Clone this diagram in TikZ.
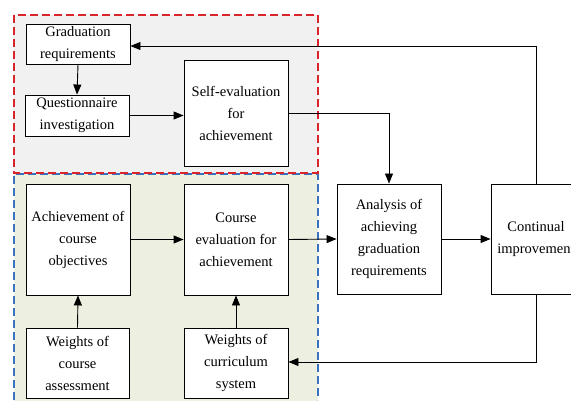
\documentclass[tikz,border=0pt]{standalone}
\usepackage{fontspec}
\setmainfont{Liberation Serif}
\usetikzlibrary{arrows.meta}
\definecolor{topfill}{HTML}{F1F1F1}
\definecolor{botfill}{HTML}{EDF0E0}
\definecolor{reddash}{HTML}{D8242A}
\definecolor{bluedash}{HTML}{3A72C0}
\begin{document}
\begin{tikzpicture}[x=1pt,y=-1pt,
  box/.style={draw, line width=0.9pt, fill=white, align=center, inner sep=0pt,
    font=\fontsize{14.5}{22}\selectfont},
  conn/.style={line width=0.9pt, -{Triangle[length=10pt,width=8pt]}},
  plain/.style={line width=0.9pt}]
\useasboundingbox (0,0) rectangle (571,401);
\clip (0,0) rectangle (571,401);
% region backgrounds
\fill[topfill] (14,15) rectangle (318,173);
\fill[botfill] (14,174) rectangle (318,401);
\draw[bluedash, line width=1.2pt, dash pattern=on 8pt off 4pt] (14,400) -- (14,174) -- (318,174) -- (318,400);
\draw[reddash, line width=1.5pt, dash pattern=on 8pt off 4pt] (14,15) rectangle (318,173);
% nodes
\node[box, minimum width=104pt, minimum height=40pt] (grad) at (78,44) {Graduation\\requirements};
\node[box, minimum width=104pt, minimum height=41pt] (quest) at (77,115.5) {Questionnaire\\investigation};
\node[box, minimum width=104pt, minimum height=106pt] (self) at (236,113) {Self-evaluation\\for\\achievement};
\node[box, minimum width=104pt, minimum height=111pt] (ach) at (78,239.5) {Achievement of\\course\\objectives};
\node[box, minimum width=104pt, minimum height=111pt] (course) at (236,239.5) {Course\\evaluation for\\achievement};
\node[box, minimum width=103pt, minimum height=70pt] (wa) at (77.5,363) {Weights of\\course\\assessment};
\node[box, minimum width=104pt, minimum height=70pt] (wc) at (236,363) {Weights of\\curriculum\\system};
\node[box, minimum width=104pt, minimum height=110pt] (anal) at (389,239) {Analysis of\\achieving\\graduation\\requirements};
\node[box, minimum width=90pt, minimum height=110pt] (cont) at (536,239) {Continual\\improvement};
\coordinate (tr) at (536,46);
\coordinate (br) at (536,362);
% connectors
\draw[conn] (grad.south) -- (quest.north);
\draw[conn] (quest.east) -- (self.west |- quest.east);
\draw[conn] (self.east) -| (anal.north);
\draw[conn] (ach.east) -- (course.west);
\draw[conn] (course.east) -- (anal.west);
\draw[conn] (anal.east) -- (cont.west);
\draw[conn] (wa.north) -- (ach.south);
\draw[conn] (wc.north) -- (course.south);
\draw[conn] (cont.north) -- (tr) -- (grad.east |- tr);
\draw[conn] (cont.south) -- (br) -- (wc.east |- br);
\end{tikzpicture}
\end{document}
